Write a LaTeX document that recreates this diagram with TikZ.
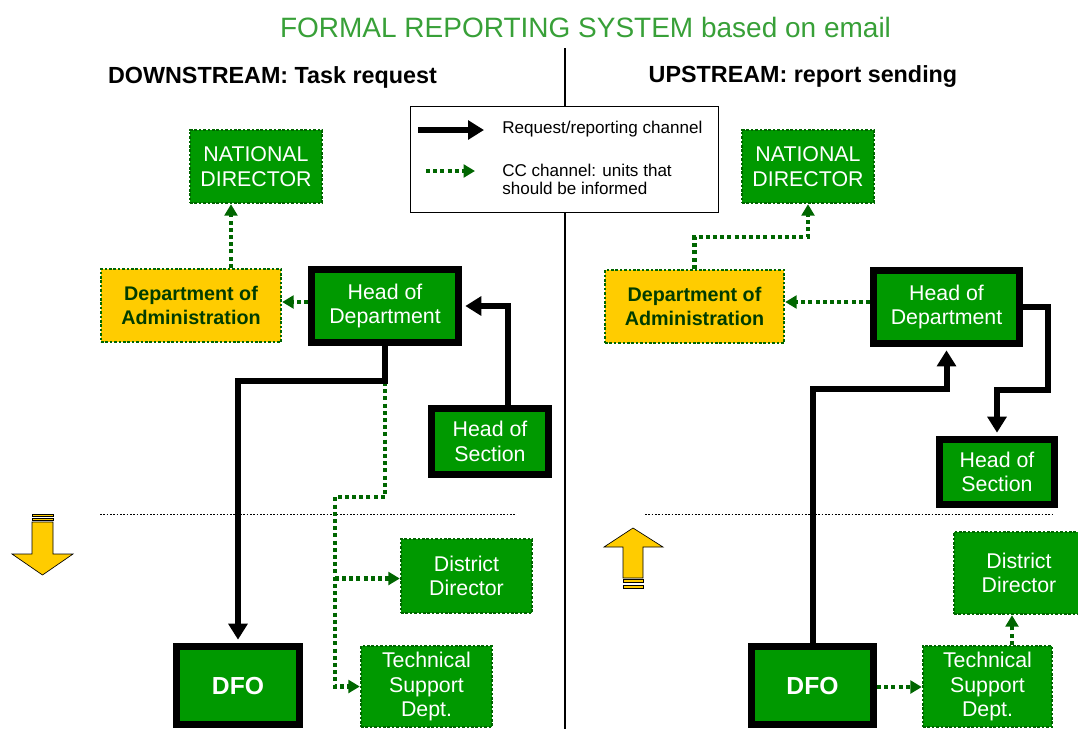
\documentclass[tikz,border=0pt]{standalone}
\usepackage{fontspec}
\setmainfont{Liberation Sans}
\usetikzlibrary{arrows.meta,calc}

\definecolor{boxgreen}{RGB}{0,153,0}
\definecolor{ccgreen}{RGB}{0,102,0}
\definecolor{admtext}{RGB}{0,60,0}
\definecolor{admyellow}{RGB}{255,204,0}
\definecolor{titlegreen}{RGB}{56,160,56}

\tikzset{
  sz/.style 2 args={minimum width=#1*0.75pt, minimum height=#2*0.75pt},
  unit/.style={fill=boxgreen, text=white, align=center, inner sep=0pt,
    font=\fontsize{16}{18.4}\selectfont},
  headbox/.style={unit, draw=black, line width=5pt},
  dfobox/.style={headbox, font=\bfseries\fontsize{18.5}{22}\selectfont},
  ccbox/.style={unit, draw=ccgreen, line width=1.8pt, dash pattern=on 2pt off 1.3pt},
  adminbox/.style={ccbox, fill=admyellow, text=admtext,
    font=\bfseries\fontsize{14.8}{18}\selectfont},
  req/.style={draw=black, line width=4.5pt,
    -{Triangle[width=14pt,length=12pt]}, shorten >=2.5pt},
  cc/.style={draw=ccgreen, line width=3.2pt, dash pattern=on 3pt off 2.4pt,
    -{Triangle[width=9.5pt,length=8.5pt]}},
  separator/.style={draw=black, line width=1.2pt, dash pattern=on 1.2pt off 1.3pt},
  flowarrow/.style={fill=admyellow, draw=black, line width=0.5pt},
  heading/.style={font=\bfseries\fontsize{17.5}{21}\selectfont},
  legendbox/.style={draw=black, fill=white, line width=0.75pt, inner sep=0pt},
  legendtext/.style={font=\fontsize{12.8}{13.5}\selectfont, inner sep=0pt, align=left},
}

\begin{document}
\begin{tikzpicture}[x=0.75pt, y=-0.75pt]
\useasboundingbox (0,0) rectangle (1078,729);

% title and column headings
\node[font=\fontsize{21}{25}\selectfont, text=titlegreen] (title) at (585.5,27)
  {FORMAL REPORTING SYSTEM based on email};
\node[heading] (downhead) at (272.5,77) {DOWNSTREAM: Task request};
\node[heading] (uphead) at (803,77) {UPSTREAM: report sending};

% divider between the two halves
\draw[line width=1.9pt] (565,48) -- (565,729);

% level separators
\draw[separator] (100,514.5) -- (516,514.5);
\draw[separator] (645,514.5) -- (1053,514.5);

% legend
\node[legendbox, sz={308}{106}] (legend) at (564.5,159) {};
\coordinate (reqA) at (418,130);
\coordinate (reqB) at (484,130);
\coordinate (ccA) at (426,171);
\coordinate (ccB) at (475,171);
\draw[req, shorten >=0pt] (reqA) -- (reqB);
\draw[cc] (ccA) -- (ccB);
\node[legendtext, anchor=west] (legReq) at (502,129) {Request/reporting channel};
\node[legendtext, anchor=west] (legCc) at (502,179.5) {CC channel: units that\\should be informed};

% direction arrows
\fill[flowarrow] (32,514) rectangle (53,516.5);
\fill[flowarrow] (32,518) rectangle (53,520.5);
\filldraw[flowarrow] (32,522) -- (53,522) -- (53,554) -- (73,554) -- (42.5,575)
  -- (12,554) -- (32,554) -- cycle;
\filldraw[flowarrow] (623,578) -- (643,578) -- (643,547) -- (663,547) -- (633,528)
  -- (604,547) -- (623,547) -- cycle;
\fill[flowarrow] (623,579.5) rectangle (643,582.5);
\fill[flowarrow] (623,585) rectangle (643,588);

% ---------- downstream ----------
\node[ccbox, sz={132}{73}] (natL) at (256,166.5) {NATIONAL\\DIRECTOR};
\node[adminbox, sz={180}{73}] (admL) at (191,305.5) {Department of\\Administration};
\node[headbox, sz={147.3}{73.3}] (hodL) at (385,306) {Head of\\Department};
\node[headbox, sz={117.3}{66.3}] (hosL) at (490,441.5) {Head of\\Section};
\node[ccbox, sz={131}{74}] (ddL) at (466.5,576) {District\\Director};
\node[dfobox, sz={123.3}{78.3}] (dfoL) at (238,685.5) {DFO};
\node[ccbox, sz={131}{81}] (tsdL) at (426.5,686.5) {Technical\\Support\\Dept.};

\draw[cc] ($(admL.north)+(40,0)$) -- ($(natL.south)+(-25,0)$);
\draw[cc] ($(hodL.west)+(0,-4)$) -- ($(admL.east)+(0,-3.5)$);
\draw[cc] (hodL.south) -- ++(0,151) -| ($(tsdL.west)+(-25,0)$) -- (tsdL.west);
\draw[cc] ($(ddL.west)+(-65,2.5)$) -- ($(ddL.west)+(0,2.5)$);
\draw[req] ($(hosL.north)+(18,0)$) |- (hodL.east);
\draw[req] (hodL.south) -- ++(0,35) -| (dfoL.north);

% ---------- upstream ----------
\node[ccbox, sz={132}{73}] (natR) at (808,166.5) {NATIONAL\\DIRECTOR};
\node[adminbox, sz={179}{73}] (admR) at (694.5,306.5) {Department of\\Administration};
\node[headbox, sz={146.3}{73.3}] (hodR) at (946.5,307) {Head of\\Department};
\node[headbox, sz={115.3}{65.3}] (hosR) at (997,472) {Head of\\Section};
\node[ccbox, sz={130}{82}] (ddR) at (1019,573) {District\\Director};
\node[dfobox, sz={122.3}{78.3}] (dfoR) at (812.5,685.5) {DFO};
\node[ccbox, sz={129}{81}] (tsdR) at (987.5,686.5) {Technical\\Support\\Dept.};

\draw[cc] (admR.north) -- ++(0,-32) -| (natR.south);
\draw[cc] ($(hodR.west)+(0,-5)$) -- ($(admR.east)+(0,-4.5)$);
\draw[cc] ($(dfoR.east)+(0,1.5)$) -- ($(tsdR.west)+(0,0.5)$);
\draw[cc] ($(tsdR.north)+(24.5,0)$) -- ($(ddR.south)+(-7,0)$);
\draw[req] (dfoR.north) -- ++(0,-254) -| (hodR.south);
\draw[req] (hodR.east) -- ++(25,0) -- ++(0,83) -| (hosR.north);

\end{tikzpicture}
\end{document}
